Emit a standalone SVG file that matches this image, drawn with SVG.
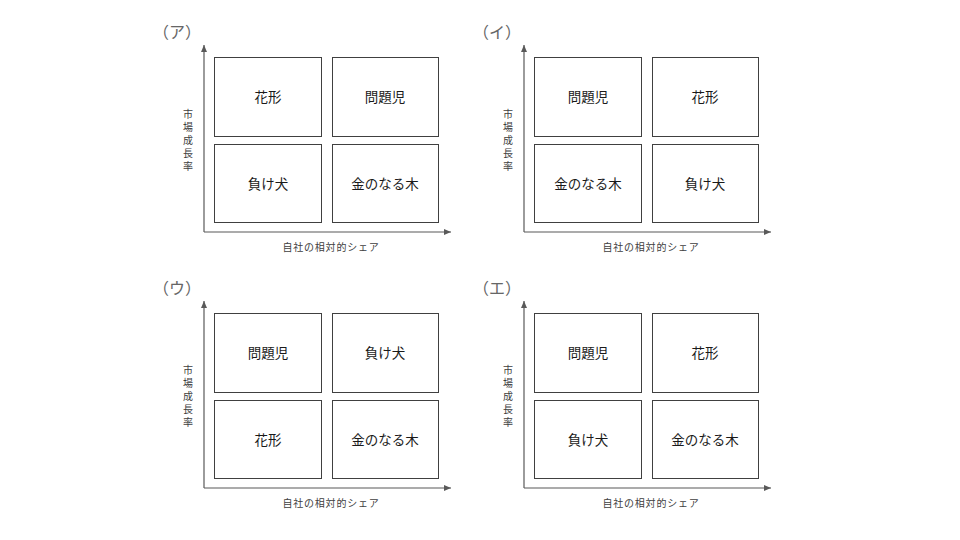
<svg xmlns="http://www.w3.org/2000/svg" width="960" height="540" viewBox="0 0 960 540">
<style>
.box{fill:#fff;stroke:#404040;stroke-width:1}
.ax{stroke:#595959;stroke-width:1.2;fill:none}
.lbl{font-family:"Noto Sans CJK JP","Noto Sans",sans-serif;font-size:13.5px;fill:#1a1a1a;text-anchor:middle;dominant-baseline:central}
.ttl{font-family:"Noto Sans CJK JP",sans-serif;font-size:16px;fill:#666666}
.axt{font-family:"Noto Sans CJK JP",sans-serif;font-size:10px;fill:#404040;text-anchor:middle;dominant-baseline:central}
</style>
<defs>
<marker id="ah" markerWidth="8" markerHeight="8" refX="7" refY="4" orient="auto" markerUnits="userSpaceOnUse">
<path d="M0,1 L7,4 L0,7 Z" fill="#595959"/>
</marker>
<g id="axes">
<path class="ax" d="M204,232 V45" marker-end="url(#ah)"/>
<path class="ax" d="M204,232 H451" marker-end="url(#ah)"/>
</g>
<g id="axtext">
<text class="axt" x="188" y="113">市</text>
<text class="axt" x="188" y="126">場</text>
<text class="axt" x="188" y="139">成</text>
<text class="axt" x="188" y="152">長</text>
<text class="axt" x="188" y="165">率</text>
<text class="axt" x="331" y="246" letter-spacing="0.8">自社の相対的シェア</text>
</g>
</defs>

<g id="panel-a">
<g id="connectors-a"><use href="#axes"/></g>
<use href="#axtext"/>
<text class="ttl" x="153" y="38">（ア）</text>
<g id="a-tl"><rect class="box" x="214.5" y="57.5" width="107" height="79"/><text class="lbl" x="268" y="96">花形</text></g>
<g id="a-tr"><rect class="box" x="332.5" y="57.5" width="106" height="79"/><text class="lbl" x="385" y="96">問題児</text></g>
<g id="a-bl"><rect class="box" x="214.5" y="144.5" width="107" height="78"/><text class="lbl" x="268" y="183">負け犬</text></g>
<g id="a-br"><rect class="box" x="332.5" y="144.5" width="106" height="78"/><text class="lbl" x="385" y="183">金のなる木</text></g>
</g>

<g id="panel-i" transform="translate(320,0)">
<g id="connectors-i"><use href="#axes"/></g>
<use href="#axtext"/>
<text class="ttl" x="153" y="38">（イ）</text>
<g id="i-tl"><rect class="box" x="214.5" y="57.5" width="107" height="79"/><text class="lbl" x="268" y="96">問題児</text></g>
<g id="i-tr"><rect class="box" x="332.5" y="57.5" width="106" height="79"/><text class="lbl" x="385" y="96">花形</text></g>
<g id="i-bl"><rect class="box" x="214.5" y="144.5" width="107" height="78"/><text class="lbl" x="268" y="183">金のなる木</text></g>
<g id="i-br"><rect class="box" x="332.5" y="144.5" width="106" height="78"/><text class="lbl" x="385" y="183">負け犬</text></g>
</g>

<g id="panel-u" transform="translate(0,256)">
<g id="connectors-u"><use href="#axes"/></g>
<use href="#axtext"/>
<text class="ttl" x="153" y="38">（ウ）</text>
<g id="u-tl"><rect class="box" x="214.5" y="57.5" width="107" height="79"/><text class="lbl" x="268" y="96">問題児</text></g>
<g id="u-tr"><rect class="box" x="332.5" y="57.5" width="106" height="79"/><text class="lbl" x="385" y="96">負け犬</text></g>
<g id="u-bl"><rect class="box" x="214.5" y="144.5" width="107" height="78"/><text class="lbl" x="268" y="183">花形</text></g>
<g id="u-br"><rect class="box" x="332.5" y="144.5" width="106" height="78"/><text class="lbl" x="385" y="183">金のなる木</text></g>
</g>

<g id="panel-e" transform="translate(320,256)">
<g id="connectors-e"><use href="#axes"/></g>
<use href="#axtext"/>
<text class="ttl" x="153" y="38">（エ）</text>
<g id="e-tl"><rect class="box" x="214.5" y="57.5" width="107" height="79"/><text class="lbl" x="268" y="96">問題児</text></g>
<g id="e-tr"><rect class="box" x="332.5" y="57.5" width="106" height="79"/><text class="lbl" x="385" y="96">花形</text></g>
<g id="e-bl"><rect class="box" x="214.5" y="144.5" width="107" height="78"/><text class="lbl" x="268" y="183">負け犬</text></g>
<g id="e-br"><rect class="box" x="332.5" y="144.5" width="106" height="78"/><text class="lbl" x="385" y="183">金のなる木</text></g>
</g>
</svg>
